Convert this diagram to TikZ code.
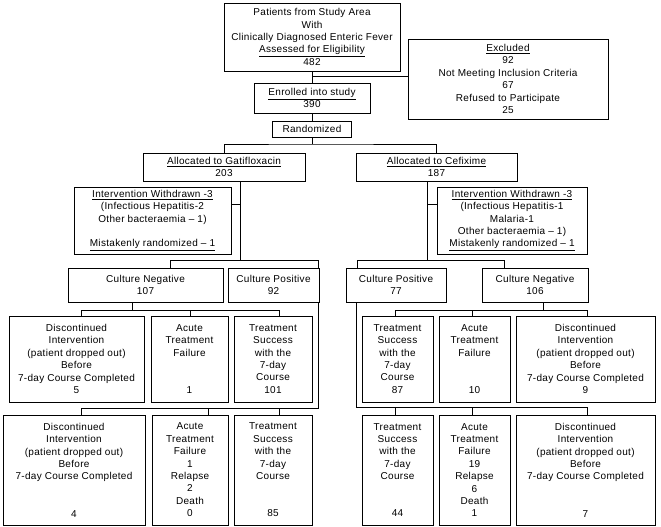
\documentclass[tikz,border=0pt]{standalone}
\usepackage{fontspec}
\setmainfont{Liberation Sans}[LetterSpace=3]
\begin{document}
\begin{tikzpicture}[x=1pt,y=-1pt,
  box/.style={draw, line width=0.8pt, align=center, inner sep=0pt,
    font=\fontsize{10}{12.4}\selectfont},
  link/.style={line width=0.8pt}]
  \useasboundingbox (0,0) rectangle (661,527);

  % screening and enrolment
  \node (pat) at (312,37) [box, minimum width=176pt, minimum height=68pt]
    {Patients from Study Area\\With\\Clinically Diagnosed Enteric Fever\\\underline{Assessed for Eligibility}\\482};
  \node (exc) at (508,79) [box, minimum width=200pt, minimum height=80pt]
    {\underline{Excluded}\\92\\Not Meeting Inclusion Criteria\\67\\Refused to Participate\\25};
  \node (enr) at (312,98) [box, minimum width=116pt, minimum height=30pt]
    {\underline{Enrolled into study}\\390};
  \node (rnd) at (312,129) [box, minimum width=79pt, minimum height=16pt] {Randomized};

  % allocation
  \node (gat) at (224,167) [box, minimum width=162pt, minimum height=28pt]
    {\underline{Allocated to Gatifloxacin}\\203};
  \node (cef) at (436.5,167) [box, minimum width=161pt, minimum height=28pt]
    {\underline{Allocated to Cefixime}\\187};
  \node (wdl) at (152.5,220.5) [box, minimum width=157pt, minimum height=67pt]
    {\underline{Intervention Withdrawn -3}\\(Infectious Hepatitis-2\\Other bacteraemia -- 1)\\~\\\underline{Mistakenly randomized -- 1}};
  \node (wdr) at (512,220.5) [box, minimum width=150pt, minimum height=67pt]
    {\underline{Intervention Withdrawn -3}\\(Infectious Hepatitis-1\\Malaria-1\\Other bacteraemia -- 1)\\\underline{Mistakenly randomized -- 1}};

  % culture results
  \node (cnl) at (145.5,285) [box, minimum width=155pt, minimum height=34pt] {Culture Negative\\107};
  \node (cpl) at (273.5,285) [box, minimum width=91pt, minimum height=34pt] {Culture Positive\\92};
  \node (cpr) at (396,285) [box, minimum width=100pt, minimum height=34pt] {Culture Positive\\77};
  \node (cnr) at (535,285) [box, minimum width=106pt, minimum height=34pt] {Culture Negative\\106};

  % outcomes, culture negative
  \node (d1l) at (76.5,359) [box, minimum width=135pt, minimum height=86pt]
    {Discontinued\\Intervention\\(patient dropped out)\\Before\\7-day Course Completed\\5};
  \node (a1l) at (189.5,359) [box, minimum width=77pt, minimum height=86pt]
    {Acute\\Treatment\\Failure\\~\\~\\1};
  \node (s1l) at (273,359) [box, minimum width=78pt, minimum height=86pt]
    {Treatment\\Success\\with the\\7-day\\Course\\101};
  \node (s1r) at (397.5,359) [box, minimum width=71pt, minimum height=86pt]
    {Treatment\\Success\\with the\\7-day\\Course\\87};
  \node (a1r) at (474.5,359) [box, minimum width=71pt, minimum height=86pt]
    {Acute\\Treatment\\Failure\\~\\~\\10};
  \node (d1r) at (585.5,359) [box, minimum width=139pt, minimum height=86pt]
    {Discontinued\\Intervention\\(patient dropped out)\\Before\\7-day Course Completed\\9};

  % outcomes, culture positive
  \node (d2l) at (74,470) [box, minimum width=142pt, minimum height=110pt]
    {Discontinued\\Intervention\\(patient dropped out)\\Before\\7-day Course Completed\\~\\~\\4};
  \node (a2l) at (190,470) [box, minimum width=76pt, minimum height=110pt]
    {Acute\\Treatment\\Failure\\1\\Relapse\\2\\Death\\0};
  \node (s2l) at (273,470) [box, minimum width=78pt, minimum height=110pt]
    {Treatment\\Success\\with the\\7-day\\Course\\~\\~\\85};
  \node (s2r) at (397.5,470) [box, minimum width=71pt, minimum height=110pt]
    {Treatment\\Success\\with the\\7-day\\Course\\~\\~\\44};
  \node (a2r) at (474.5,470) [box, minimum width=71pt, minimum height=110pt]
    {Acute\\Treatment\\Failure\\19\\Relapse\\6\\Death\\1};
  \node (d2r) at (585.5,470) [box, minimum width=139pt, minimum height=110pt]
    {Discontinued\\Intervention\\(patient dropped out)\\Before\\7-day Course Completed\\~\\~\\7};

  % junctions
  \coordinate (j0) at (312,76);
  \coordinate (j1) at (312,144);
  \coordinate (gw) at (240,204);
  \coordinate (gv) at (240,260);
  \coordinate (cw) at (427,204);
  \coordinate (cv) at (427,260);
  \coordinate (gl) at (170,260);
  \coordinate (gr) at (318,260);
  \coordinate (cl) at (357,260);
  \coordinate (cr) at (504,260);
  \coordinate (n0) at (132,310);
  \coordinate (n1) at (81,310);
  \coordinate (n2) at (190,310);
  \coordinate (n3) at (279,310);
  \coordinate (m0) at (543,310);
  \coordinate (m1) at (395,310);
  \coordinate (m2) at (472,310);
  \coordinate (m3) at (587,310);
  \coordinate (p0) at (318,408);
  \coordinate (p1) at (81,408);
  \coordinate (p2) at (208,408);
  \coordinate (p3) at (279,408);
  \coordinate (q0) at (356,407);
  \coordinate (q1) at (395,407);
  \coordinate (q2) at (472,407);
  \coordinate (q3) at (587,407);

  % connectors
  \draw[link] (pat) -- (enr);
  \draw[link] (j0) -- (j0 -| exc.west);
  \draw[link] (enr) -- (rnd);
  \draw[link] (rnd) -- (j1);
  \draw[link] (gat.north) |- (j1) -| (cef.north);

  \draw[link] (gv |- gat.south) -- (gv);
  \draw[link] (gw) -- (gw -| wdl.east);
  \draw[link] (cnl.north -| gl) |- (gr) -- (cpl.north -| gr);
  \draw[link] (cv |- cef.south) -- (cv);
  \draw[link] (cw) -- (cw -| wdr.west);
  \draw[link] (cpr.north -| cl) |- (cr) -- (cnr.north -| cr);

  \draw[link] (cnl.south -| n0) -- (n0);
  \draw[link] (d1l.north -| n1) -- (n1) -- (n3) -- (s1l.north -| n3);
  \draw[link] (n2) -- (a1l.north -| n2);
  \draw[link] (cnr.south -| m0) -- (m0);
  \draw[link] (s1r.north -| m1) -- (m1) -- (m3) -- (d1r.north -| m3);
  \draw[link] (m2) -- (a1r.north -| m2);

  \draw[link] (cpl.south -| p0) -- (p0) -- (p1) -- (d2l.north -| p1);
  \draw[link] (p2) -- (a2l.north -| p2);
  \draw[link] (p3) -- (s2l.north -| p3);
  \draw[link] (cpr.south -| q0) -- (q0) -- (q3) -- (d2r.north -| q3);
  \draw[link] (q1) -- (s2r.north -| q1);
  \draw[link] (q2) -- (a2r.north -| q2);
\end{tikzpicture}
\end{document}
